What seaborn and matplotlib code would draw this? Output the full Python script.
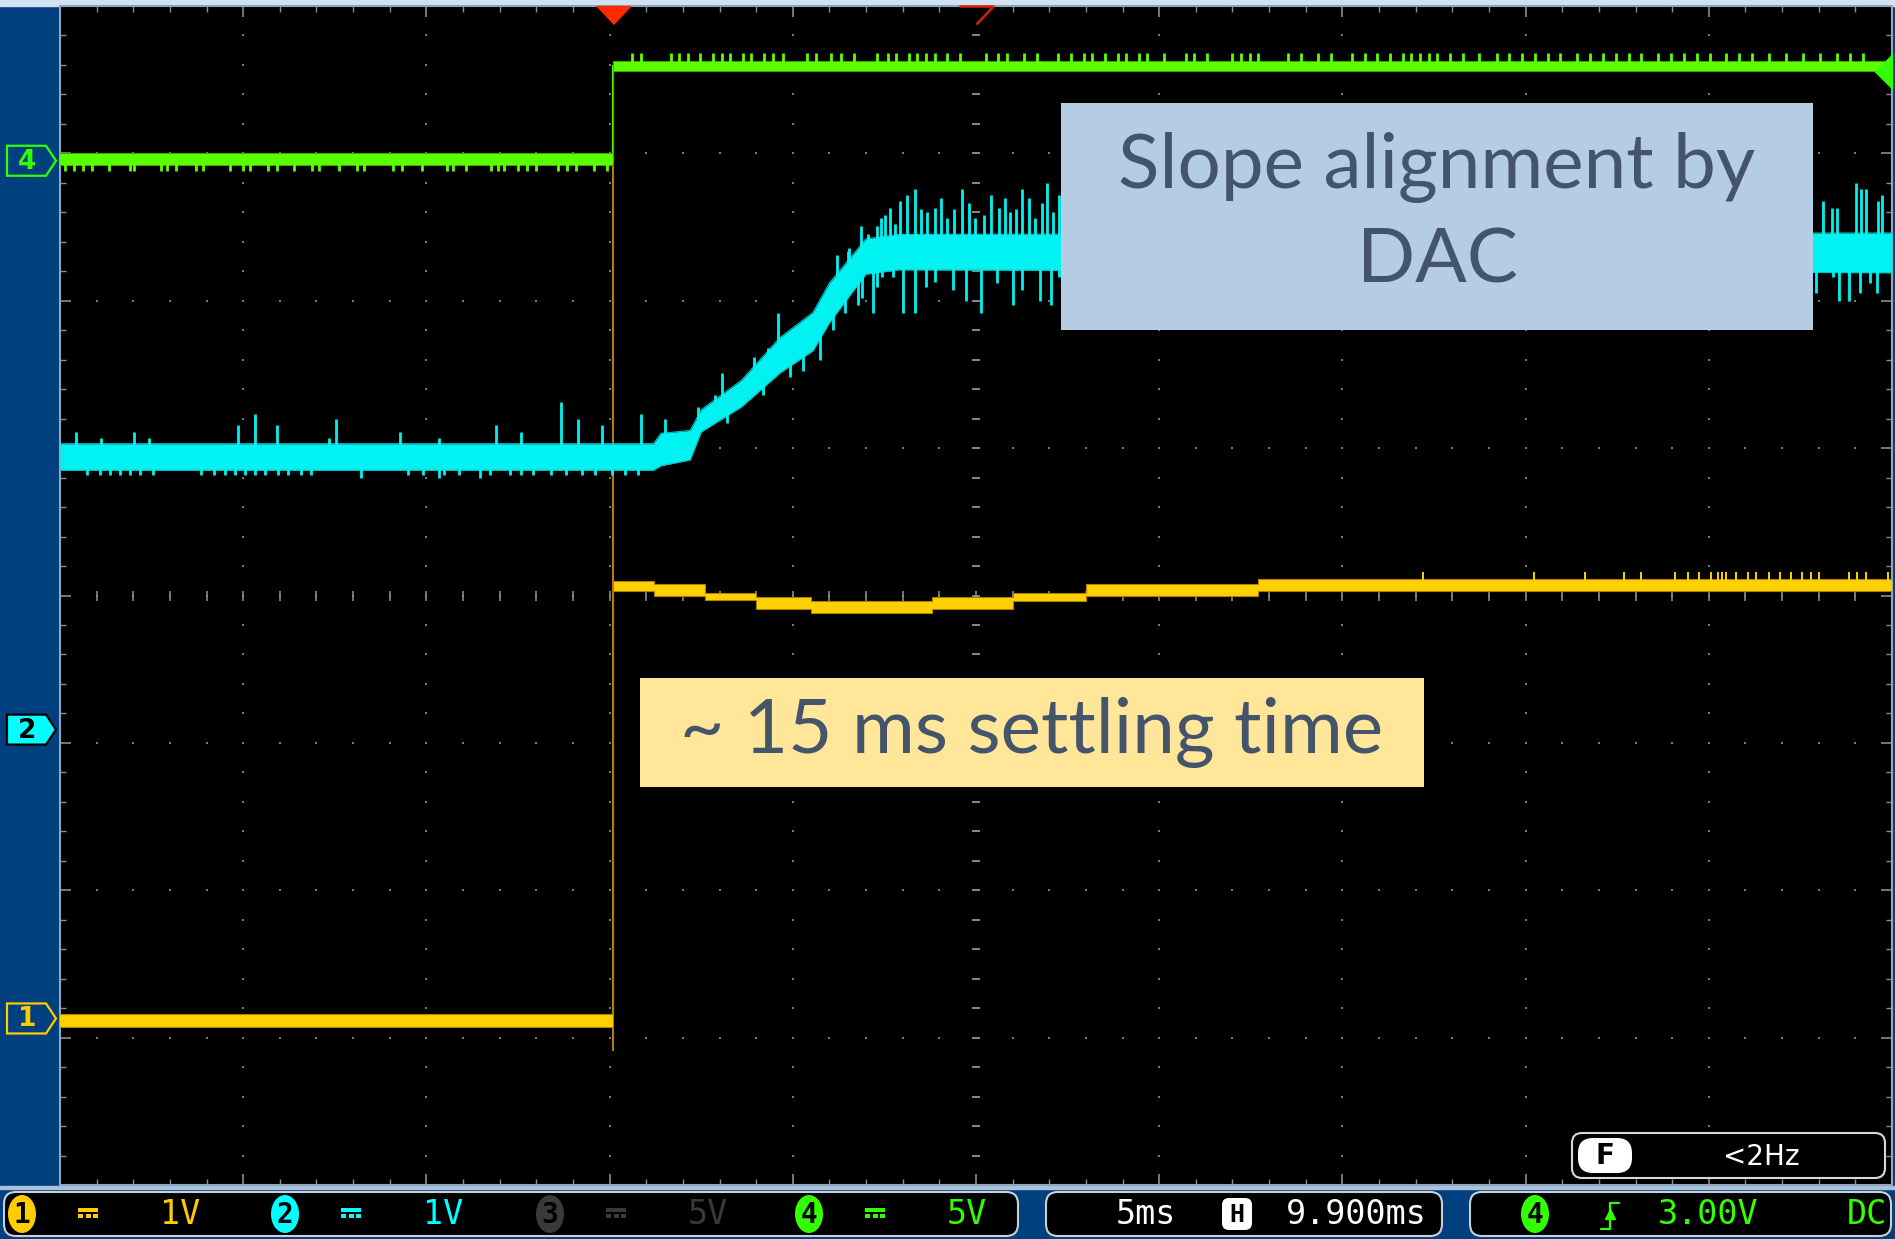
import numpy as np
import seaborn as sns
import matplotlib.pyplot as plt
from matplotlib import patches

# scope settings
h_scale = 5.0       # ms per division
h_pos = 9.9         # ms at screen centre (trigger at 0 ms)
n_hdiv, n_vdiv = 10, 8
trig_t = 0.0
trig_level = 7.56   # ch4 trigger level marker (div)

# channel ground markers on the left edge (div)
ch_ref_names = ['4', '2', '1']
ch_ref_levels = [6.95, 3.09, 1.13]

# ch1 (yellow): step-wise band, time in ms, level in div
yel_t = [-15.1, 0.0, 1.1, 2.5, 3.9, 5.4, 8.7, 10.9, 12.9, 17.6, 34.9]
yel_lo = [1.07, 4.03, 4.00, 3.97, 3.91, 3.88, 3.91, 3.96, 4.00, 4.03, 4.03]
yel_hi = [1.16, 4.10, 4.08, 4.02, 3.99, 3.96, 3.99, 4.02, 4.08, 4.11, 4.11]
yel_edge = [0.91, 7.60]
yel_up_t = [22.11, 25.12, 26.52, 27.58, 28.05, 28.98, 29.33, 29.64, 29.95, 30.15,
            30.26, 30.37, 30.65, 30.96, 31.20, 31.54, 31.85, 32.13, 32.44, 32.68,
            32.91, 33.72, 33.95, 34.20, 34.78]
yel_up_top = 4.16

# ch2 (cyan): noisy band with a ramp
cyn_t = [-15.1, 1.1, 1.3, 2.1, 2.4, 3.5, 4.55, 5.45, 5.9, 6.5, 6.9, 7.8, 34.9]
cyn_lo = [4.85, 4.85, 4.88, 4.92, 5.11, 5.28, 5.51, 5.66, 5.85, 6.05, 6.18, 6.21, 6.19]
cyn_hi = [5.03, 5.03, 5.10, 5.12, 5.26, 5.46, 5.75, 5.92, 6.12, 6.30, 6.42, 6.45, 6.46]
cyn_up_t = [-14.65, -13.99, -13.09, -12.66, -10.24, -9.78, -9.18, -7.76, -7.58, -5.83,
            -4.76, -3.19, -2.51, -1.43, -0.96, -0.31, 0.76, 1.41, 2.31, 2.78, 2.97,
            3.84, 4.22, 4.50, 5.10, 5.32, 6.11, 6.41, 6.43, 6.76, 6.95, 7.20, 7.31,
            7.42, 7.55, 7.70, 7.83, 8.02, 8.24, 8.40, 8.56, 8.78, 8.95, 9.11, 9.30,
            9.52, 9.70, 9.87, 10.12, 10.31, 10.53, 10.68, 10.83, 11.00, 11.16, 11.35,
            11.51, 11.70, 11.84, 12.00, 12.17, 33.02, 33.26, 33.40, 33.92, 34.05,
            34.19, 34.52, 34.63]
cyn_up_top = [5.11, 5.07, 5.11, 5.07, 5.16, 5.23, 5.16, 5.07, 5.20, 5.11,
              5.07, 5.16, 5.11, 5.31, 5.20, 5.16, 5.23, 5.20, 5.28, 5.36, 5.51,
              5.62, 5.68, 5.92, 5.82, 5.88, 6.31, 6.34, 6.36, 6.51, 6.45, 6.51, 6.56,
              6.58, 6.63, 6.52, 6.68, 6.72, 6.76, 6.62, 6.60, 6.63, 6.70, 6.56, 6.62,
              6.76, 6.66, 6.56, 6.58, 6.72, 6.63, 6.70, 6.60, 6.62, 6.76, 6.70,
              6.56, 6.66, 6.80, 6.60, 6.72, 6.68, 6.63, 6.63, 6.80, 6.76,
              6.76, 6.68, 6.72]
cyn_dn_t = [-14.37, -14.02, -13.74, -13.47, -13.19, -12.91, -12.56, -11.24, -10.89,
            -10.61, -10.33, -10.05, -9.78, -9.50, -9.15, -8.87, -8.52, -8.24, -6.88,
            -5.60, -5.18, -4.76, -4.62, -4.20, -3.64, -3.37, -2.81, -2.53, -2.19,
            -1.70, -1.28, -0.86, -0.51, -0.03, 0.32, 0.67,
            3.10, 4.09, 4.82, 5.18, 5.64, 6.00, 6.32, 6.68,
            6.79, 7.09, 7.20, 7.33, 7.63, 7.91, 8.24, 8.54, 8.78, 9.27, 9.63, 10.04,
            10.47, 10.91, 11.16, 11.65, 11.95, 12.17, 32.83, 33.29, 33.45, 33.72,
            34.03, 34.30, 34.49]
cyn_dn_bot = [4.82, 4.82, 4.82, 4.82, 4.82, 4.82, 4.82, 4.82, 4.82,
              4.82, 4.82, 4.82, 4.82, 4.82, 4.82, 4.82, 4.82, 4.82, 4.80,
              4.82, 4.82, 4.80, 4.82, 4.82, 4.80, 4.82, 4.82, 4.82, 4.82,
              4.82, 4.82, 4.82, 4.82, 4.82, 4.82, 4.82,
              5.17, 5.36, 5.48, 5.52, 5.60, 5.80, 5.92, 5.97,
              6.02, 5.92, 6.09, 6.16, 6.16, 5.92, 5.92, 6.09, 6.13, 6.07, 6.00, 5.92,
              6.12, 5.97, 6.07, 6.00, 5.97, 6.16, 6.05, 6.16, 6.00, 6.00,
              6.05, 6.12, 6.05]

# ch4 (green): digital step
grn_t = [-15.1, 0.0, 34.9]
grn_lo = [6.92, 7.56, 7.56]
grn_hi = [7.00, 7.63, 7.63]
grn_dn_t = [-14.97, -14.73, -14.48, -14.24, -13.75, -13.20, -13.08, -12.35, -12.17,
            -11.93, -11.38, -11.19, -10.46, -10.10, -9.91, -9.43, -9.18, -8.70,
            -8.21, -8.03, -7.48, -6.99, -6.81, -6.01, -5.77, -5.22, -4.55, -4.37,
            -4.01, -3.33, -3.15, -2.97, -2.60, -2.36, -2.12, -1.51, -1.27, -1.02,
            -0.53, -0.17]
grn_dn_bot = 6.88
grn_up_t = [0.52, 0.75, 1.57, 1.80, 2.03, 2.38, 2.73, 2.96, 3.19, 3.54, 3.77, 4.12,
            4.36, 4.63, 5.28, 5.52, 5.94, 6.21, 6.56, 7.19, 7.49, 7.72, 8.07, 8.30,
            8.54, 8.77, 9.12, 9.47, 10.16, 10.51, 10.75, 11.21, 11.56, 12.14, 12.49,
            12.84, 13.07, 13.42, 13.77, 14.00, 14.35, 14.58, 15.04, 15.63, 15.86,
            16.21, 16.90, 17.14, 17.37, 17.60, 18.41, 18.76, 19.23, 19.58, 20.16,
            20.51, 20.85, 21.20, 21.55, 21.78, 22.02, 22.25, 22.48, 22.83, 23.18,
            23.64, 24.11, 24.46, 24.80, 25.15, 25.50, 25.85, 26.31, 26.66, 27.01,
            27.36, 27.71, 28.06, 28.52, 28.87, 29.22, 29.57, 29.92, 30.38, 30.73,
            31.08, 31.54, 32.01, 32.47, 32.94, 33.40, 33.75, 34.10]
grn_up_top = 7.68

# status bar texts
ch_names = ['1', '2', '3', '4']
ch_volts = ['1V', '1V', '5V', '5V']
timebase_txt = '5ms'
delay_txt = '9.900ms'
trig_txt = '3.00V'
coupling_txt = 'DC'
freq_txt = '<2Hz'

note_dac = 'Slope alignment by\nDAC'
note_settle = '~ 15 ms settling time'

YEL, CYN, GRN, RED = '#FFD000', '#00F2F2', '#5CFF00', '#FF2A00'
ch_colors = ['#FFCC00', '#00FFFF', '#3A3A3A', '#33FF00']

sns.set_theme(style='dark')
plt.rcParams['font.family'] = ['Lato', 'DejaVu Sans']

W, H = 1895, 1239
fig = plt.figure(figsize=(W / 100, H / 100), dpi=100)

bg = fig.add_axes([0, 0, 1, 1], zorder=0)
bg.set_xlim(0, W)
bg.set_ylim(H, 0)
bg.axis('off')
bg.add_patch(patches.Rectangle((0, 0), W, H, color='#00407F'))
bg.add_patch(patches.Rectangle((0, 0), W, 6, color='#D3E2F1'))
bg.add_patch(patches.Rectangle((0, 1186), W, 3, color='#A9C1D8'))

ax = fig.add_axes([60 / W, 54 / H, 1832 / W, 1179 / H], zorder=1)
xl, xr = h_pos - h_scale * n_hdiv / 2, h_pos + h_scale * n_hdiv / 2
ax.set_facecolor('black')
ax.grid(False)

# graticule
minor_x = np.arange(xl, xr + 1e-6, 1.0)
minor_y = np.arange(0, n_vdiv + 1e-6, 0.2)
major_x = xl + h_scale * np.arange(1, n_hdiv)
major_y = np.arange(1, n_vdiv)
vx, vy = np.meshgrid(major_x, minor_y)
hx, hy = np.meshgrid(minor_x, major_y)
ax.scatter(np.r_[vx.ravel(), hx.ravel()], np.r_[vy.ravel(), hy.ravel()],
           s=3, marker='s', c='#7a7a7a', linewidths=0, zorder=1)
ax.plot(np.full_like(minor_y, h_pos), minor_y, ls='none', marker='_', ms=6,
        mew=1.4, color='#8a8a8a', zorder=1)
ax.plot(minor_x, np.full_like(minor_x, n_vdiv / 2), ls='none', marker='|', ms=7,
        mew=1.2, color='#8a8a8a', zorder=1)

ax.set_xticks(np.r_[xl, major_x, xr])
ax.set_xticks(minor_x, minor=True)
ax.set_yticks(np.arange(0, n_vdiv + 1))
ax.set_yticks(minor_y, minor=True)
ax.tick_params(which='both', direction='in', top=True, bottom=True, left=True,
               right=True, labelbottom=False, labelleft=False, colors='#8c8c8c')
ax.tick_params(which='major', length=8, width=1.2)
ax.tick_params(which='minor', length=4, width=1.0)
for s in ax.spines.values():
    s.set_color('#8fa6bd')
    s.set_linewidth(1.5)

# ch1 yellow
ax.vlines(trig_t, *yel_edge, color='#C98A0C', lw=1.3, zorder=2)
ax.fill_between(yel_t, yel_lo, yel_hi, step='post', color=YEL, lw=0, zorder=3)
for edge in (yel_lo, yel_hi):
    sns.lineplot(x=yel_t, y=edge, drawstyle='steps-post', color='#A88600', lw=0.8,
                 estimator=None, errorbar=None, ax=ax, zorder=3)
ax.vlines(yel_up_t, 4.08, yel_up_top, color=YEL, lw=1.4, zorder=3)

# ch2 cyan
cyn_mid = (np.array(cyn_lo) + np.array(cyn_hi)) / 2
ax.fill_between(cyn_t, cyn_lo, cyn_hi, color=CYN, lw=0, zorder=4)
for edge in (cyn_lo, cyn_hi):
    sns.lineplot(x=cyn_t, y=edge, color='#00C4C4', lw=0.8,
                 estimator=None, errorbar=None, ax=ax, zorder=4)
ax.vlines(cyn_up_t, np.interp(cyn_up_t, cyn_t, cyn_mid), cyn_up_top,
          color=CYN, lw=2.0, zorder=4)
ax.vlines(cyn_dn_t, np.interp(cyn_dn_t, cyn_t, cyn_mid), cyn_dn_bot,
          color=CYN, lw=2.0, zorder=4)

# ch4 green
ax.vlines(trig_t, grn_hi[0] - 0.04, grn_lo[1] + 0.04, color=GRN, lw=1.5, zorder=5)
ax.fill_between(grn_t, grn_lo, grn_hi, step='post', color=GRN, lw=0, zorder=5)
for edge in (grn_lo, grn_hi):
    sns.lineplot(x=grn_t, y=edge, drawstyle='steps-post', color='#3DA800', lw=0.8,
                 estimator=None, errorbar=None, ax=ax, zorder=5)
ax.vlines(grn_dn_t, 6.95, grn_dn_bot, color=GRN, lw=2.0, zorder=5)
ax.vlines(grn_up_t, 7.60, grn_up_top, color=GRN, lw=2.0, zorder=5)

ax.set_xlim(xl, xr)
ax.set_ylim(0, n_vdiv)
ax.set_xlabel('')
ax.set_ylabel('')

# trigger / position markers
tri_down = [(-1, 0), (1, 0), (0, -1.06)]
ax.plot([trig_t], [n_vdiv], marker=tri_down, ms=26, color=RED, ls='none',
        clip_on=False, zorder=6)
ax.plot([h_pos], [n_vdiv], marker=tri_down, ms=26, mfc='black', mec='#D82000',
        mew=1.8, ls='none', clip_on=False, zorder=6)
ax.plot([xr], [trig_level], marker=[(0, 1), (0, -1), (-1, 0)], ms=25, color='#33FF00',
        ls='none', clip_on=False, zorder=6)

top = fig.add_axes([0, 0, 1, 1], zorder=3)
top.set_xlim(0, W)
top.set_ylim(H, 0)
top.axis('off')


def to_px(t, v):
    return top.transData.inverted().transform(ax.transData.transform((t, v)))


# channel ground markers on the left panel
mark_style = {'4': ('none', '#33FF00', '#33FF00'),
              '2': ('#00FFFF', 'black', 'black'),
              '1': ('none', '#FFCC00', '#FFCC00')}
for name, level in zip(ch_ref_names, ch_ref_levels):
    y = to_px(xl, level)[1]
    fc, ec, tc = mark_style[name]
    top.add_patch(patches.Polygon([(7, y - 15), (46, y - 15), (56, y), (46, y + 15),
                                   (7, y + 15)], closed=True, fc=fc, ec=ec, lw=1.6))
    top.text(27, y + 1, name, ha='center', va='center', color=tc, fontsize=19,
             fontweight='bold', family='DejaVu Sans')

# annotation boxes
top.add_patch(patches.Rectangle((1061, 103), 752, 227, fc='#B4CCE4', ec='none'))
top.text(1437, 214, note_dac, ha='center', va='center', fontsize=55,
         color='#44546A', linespacing=1.42)
top.add_patch(patches.Rectangle((640, 678), 784, 109, fc='#FFE699', ec='none'))
top.text(1032, 732, note_settle, ha='center', va='center', fontsize=55,
         color='#44546A')

# status bar
mono = 'DejaVu Sans Mono'
bar_y = 1214
for x0, w in [(4, 1014), (1046, 396), (1470, 421)]:
    top.add_patch(patches.FancyBboxPatch((x0, 1192), w, 44,
                                         boxstyle='round,pad=0,rounding_size=12',
                                         fc='black', ec='#c8d0d8', lw=1.5))

badge_x = [22, 285, 550, 809]
for bx, name, volts, col in zip(badge_x, ch_names, ch_volts, ch_colors):
    top.add_patch(patches.Ellipse((bx, bar_y), 28, 38, fc=col, ec='none'))
    top.text(bx, bar_y + 1, name, ha='center', va='center', color='black',
             fontsize=20, family=mono, fontweight='bold')
    cx = bx + 66
    top.add_patch(patches.Rectangle((cx - 10, bar_y - 6), 20, 4, fc=col, ec='none'))
    for i in range(3):
        top.add_patch(patches.Rectangle((cx - 10 + 7.5 * i, bar_y), 5, 4, fc=col, ec='none'))
    top.text(bx + 158, bar_y, volts, ha='center', va='center', color=col,
             fontsize=24, family=mono)

top.text(1146, bar_y, timebase_txt, ha='center', va='center', color='white',
         fontsize=24, family=mono)
top.add_patch(patches.FancyBboxPatch((1222, 1198), 30, 32,
                                     boxstyle='round,pad=0,rounding_size=7',
                                     fc='white', ec='none'))
top.text(1237, bar_y + 1, 'H', ha='center', va='center', color='black',
         fontsize=18, family=mono, fontweight='bold')
top.text(1356, bar_y, delay_txt, ha='center', va='center', color='white',
         fontsize=24, family=mono)

top.add_patch(patches.Ellipse((1535, bar_y), 28, 38, fc='#33FF00', ec='none'))
top.text(1535, bar_y + 1, '4', ha='center', va='center', color='black',
         fontsize=20, family=mono, fontweight='bold')
top.plot([1601, 1610, 1610, 1619], [1229, 1229, 1203, 1203], color='#33FF00', lw=1.6)
top.plot([1610], [1214], marker='^', ms=7, color='#33FF00')
top.text(1708, bar_y, trig_txt, ha='center', va='center', color='#33FF00',
         fontsize=24, family=mono)
top.text(1867, bar_y, coupling_txt, ha='center', va='center', color='#33FF00',
         fontsize=24, family=mono)

# frequency readout
top.add_patch(patches.FancyBboxPatch((1572, 1133), 313, 45,
                                     boxstyle='round,pad=0,rounding_size=10',
                                     fc='black', ec='#d8d8d8', lw=1.5))
top.add_patch(patches.FancyBboxPatch((1578, 1138), 54, 35,
                                     boxstyle='round,pad=0,rounding_size=15',
                                     fc='white', ec='none'))
top.text(1605, 1156, 'F', ha='center', va='center', color='black', fontsize=20,
         fontweight='bold', family='DejaVu Sans')
top.text(1761, 1157, freq_txt, ha='center', va='center', color='white',
         fontsize=20, family='DejaVu Sans')

fig.savefig('out.png', dpi=100)
